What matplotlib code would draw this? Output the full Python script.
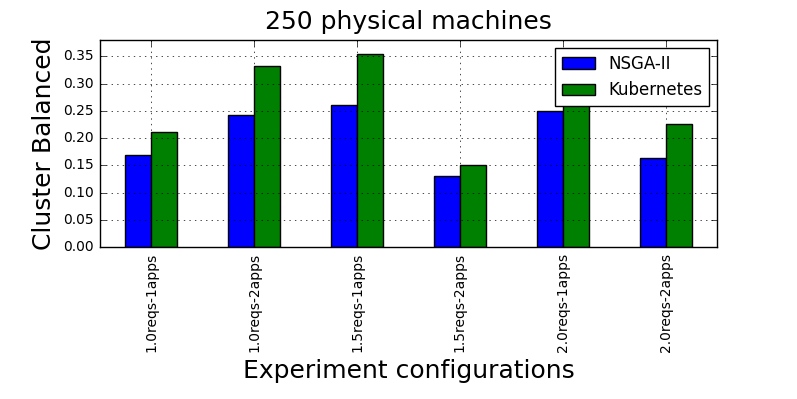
import matplotlib
matplotlib.use("Agg")
import matplotlib.pyplot as plt
import numpy as np

plt.style.use('classic')

configs = ["1.0reqs-1apps", "1.0reqs-2apps", "1.5reqs-1apps",
           "1.5reqs-2apps", "2.0reqs-1apps", "2.0reqs-2apps"]
nsga = [0.169, 0.243, 0.260, 0.130, 0.249, 0.163]
kube = [0.211, 0.332, 0.355, 0.150, 0.280, 0.226]

fig, ax = plt.subplots(figsize=(7.97, 3.99), dpi=100)
fig.patch.set_facecolor('white')
x = np.arange(len(configs))
w = 0.25
ax.bar(x - w, nsga, w, color='b', label='NSGA-II', align='edge')
ax.bar(x, kube, w, color='g', label='Kubernetes', align='edge')

ax.set_xlim(-0.5, len(configs) - 0.5)
ax.set_ylim(0, 0.38)
ax.set_yticks(np.arange(0, 0.36, 0.05))
ax.set_xticks(x)
ax.set_xticklabels(configs, rotation=90, fontsize=10)
ax.tick_params(axis='y', labelsize=10)
ax.grid(True)
ax.set_title("250 physical machines", fontsize=18, y=1.02)
ax.set_xlabel("Experiment configurations", fontsize=18)
ax.set_ylabel("Cluster Balanced", fontsize=18)
ax.legend(loc='upper right', fontsize=12)

plt.subplots_adjust(left=0.125, right=0.9, top=0.9, bottom=0.38)
plt.savefig("out.png", dpi=100, facecolor='white')
